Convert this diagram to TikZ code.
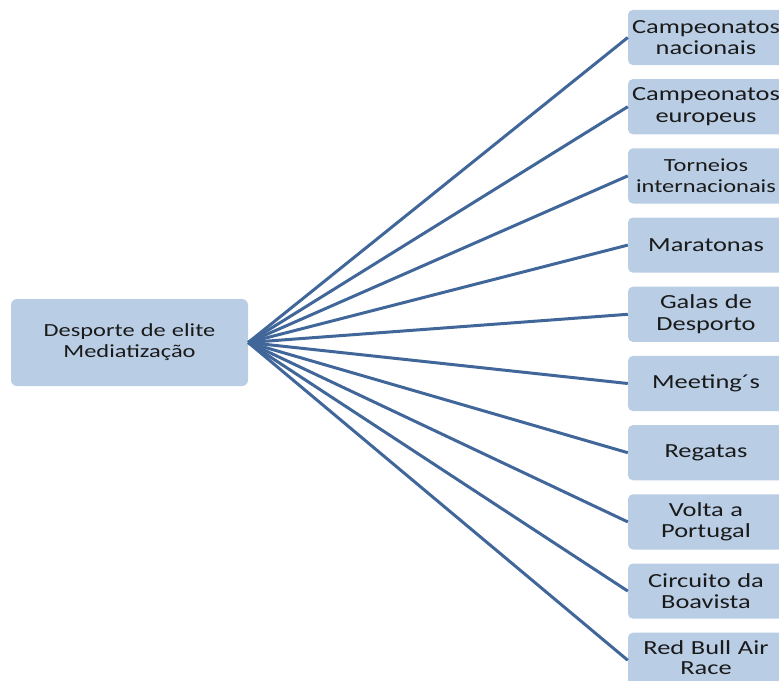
\documentclass[tikz,border=0pt]{standalone}
\usepackage{fontspec}
\setmainfont{Carlito}[FakeStretch=1.32]
\usepackage{tikz}
\usetikzlibrary{positioning}
\definecolor{DMFill}{HTML}{B9CDE5}
\definecolor{DMLine}{HTML}{41679A}
\definecolor{DMText}{HTML}{1A1A1A}

\begin{document}
\begin{tikzpicture}[
  x=1pt,y=-1pt,
  node distance=13.6pt,
  box/.style={rounded corners=5pt,fill=DMFill,minimum height=55.2pt,minimum width=156pt,text width=156pt,inner sep=0pt,align=center,text=DMText,font=\fontsize{20}{21.5}\selectfont},
  hub/.style={rounded corners=6pt,fill=DMFill,minimum height=87pt,minimum width=237pt,text width=230pt,inner sep=0pt,align=center,text=DMText,font=\fontsize{18.5}{21}\selectfont},
  link/.style={line width=3pt,draw=DMLine}
]
\clip (0,0) rectangle (779,680);
\node[hub] (elite) at (129.5,342.5) {Desporte de elite\\Mediatização};
\node[box] (nac) at (706,37.5) {Campeonatos\\nacionais};
\node[box,below=of nac] (eur) {Campeonatos\\europeus};
\node[box,below=of eur] (tor) {{\fontsize{18.5}{21}\selectfont Torneios\\internacionais}};
\node[box,below=of tor] (mar) {Maratonas};
\node[box,below=of mar] (gal) {Galas de\\Desporto};
\node[box,below=of gal] (mee) {Meeting´s};
\node[box,below=of mee] (reg) {Regatas};
\node[box,below=of reg] (vol) {Volta a\\Portugal};
\node[box,below=of vol] (cir) {Circuito da\\Boavista};
\node[box,below=of cir] (red) {Red Bull Air\\[-1pt]Race\vspace{5pt}};
\draw[link] (elite.east) -- (nac.west);
\draw[link] (elite.east) -- (eur.west);
\draw[link] (elite.east) -- (tor.west);
\draw[link] (elite.east) -- (mar.west);
\draw[link] (elite.east) -- (gal.west);
\draw[link] (elite.east) -- (mee.west);
\draw[link] (elite.east) -- (reg.west);
\draw[link] (elite.east) -- (vol.west);
\draw[link] (elite.east) -- (cir.west);
\draw[link] (elite.east) -- (red.west);
\end{tikzpicture}
\end{document}
